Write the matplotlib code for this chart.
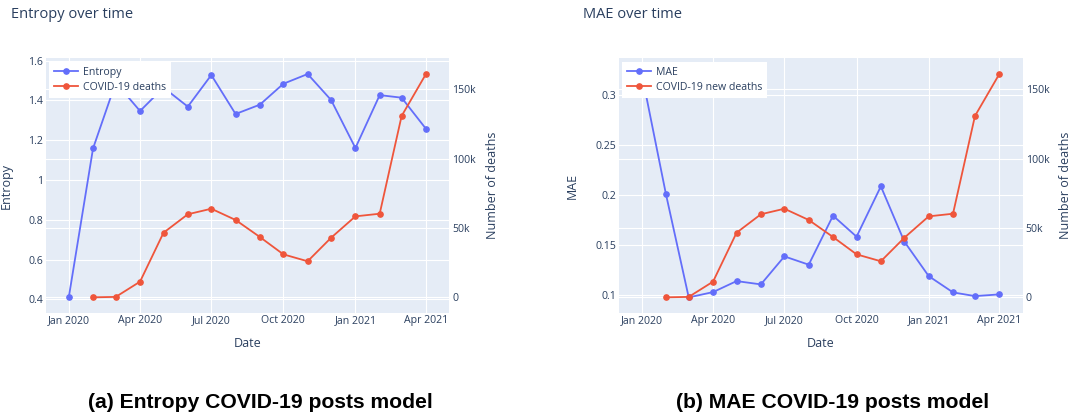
import matplotlib
matplotlib.use("Agg")
import matplotlib.pyplot as plt
import matplotlib.dates as mdates
import matplotlib.transforms as mtransforms
import pandas as pd

# monthly values
months = ['2020-01', '2020-02', '2020-03', '2020-04', '2020-05', '2020-06',
          '2020-07', '2020-08', '2020-09', '2020-10', '2020-11', '2020-12',
          '2021-01', '2021-02', '2021-03', '2021-04']
entropy = [0.410, 1.159, 1.490, 1.347, 1.465, 1.369, 1.528, 1.332,
           1.379, 1.484, 1.533, 1.402, 1.161, 1.427, 1.414, 1.258]
mae = [0.322, 0.201, 0.098, 0.1033, 0.1143, 0.111, 0.139, 0.1307,
       0.1797, 0.1587, 0.209, 0.1537, 0.1193, 0.103, 0.0993, 0.101]
death_months = months[1:]
deaths = [0, 300, 11300, 46600, 59900, 63900, 55800, 43500,
          31000, 26000, 43000, 58400, 60300, 130800, 161000]

death_ticks = [0, 50000, 100000, 150000]
death_tick_labels = ['0', '50k', '100k', '150k']
entropy_ticks = [0.4, 0.6, 0.8, 1.0, 1.2, 1.4, 1.6]
entropy_tick_labels = ['0.4', '0.6', '0.8', '1', '1.2', '1.4', '1.6']
mae_ticks = [0.1, 0.15, 0.2, 0.25, 0.3]
mae_tick_labels = ['0.1', '0.15', '0.2', '0.25', '0.3']

BLUE = '#636efa'
RED = '#ef553b'
BG = '#e5ecf6'
TXT = '#2a3f5f'
FONT = 'Open Sans'
TICK_FS = 7.6

plt.rcParams['font.family'] = [FONT, 'DejaVu Sans']

dates = pd.to_datetime(months)
death_dates = pd.to_datetime(death_months)


def panel(ax, y, ylabel, yticks, yticklabels, ylim, name, death_name, ylabel_x):
    ax2 = ax.twinx()
    ax.set_facecolor(BG)
    for a in (ax, ax2):
        for s in a.spines.values():
            s.set_visible(False)
        a.tick_params(length=0, labelsize=TICK_FS, labelcolor=TXT, pad=2)
    ax.set_xlim(pd.Timestamp('2019-12-03'), pd.Timestamp('2021-05-01'))
    ax.set_ylim(*ylim)
    ax2.set_ylim(-11100, 172400)
    ax.set_yticks(yticks)
    ax.set_yticklabels(yticklabels)
    ax2.set_yticks(death_ticks)
    ax2.set_yticklabels(death_tick_labels)
    ax.xaxis.set_major_locator(mdates.MonthLocator(bymonth=[1, 4, 7, 10]))
    ax.xaxis.set_major_formatter(mdates.DateFormatter('%b %Y'))
    ax.grid(True, color='white', lw=0.8)
    ax.set_axisbelow(True)
    # right-axis grid drawn on the bottom axes so it stays under the lines
    tr = mtransforms.blended_transform_factory(ax.transAxes, ax2.transData)
    for t in death_ticks:
        ax.plot([0, 1], [t, t], transform=tr, color='white', lw=0.8, zorder=0.5)

    l1, = ax.plot(dates, y, color=BLUE, lw=1.3, marker='o', ms=3.8, label=name)
    l2, = ax2.plot(death_dates, deaths, color=RED, lw=1.3, marker='o', ms=3.8,
                   label=death_name)

    ax.set_xlabel('Date', fontsize=9, color=TXT)
    ax.xaxis.set_label_coords(0.5, -0.096)
    ax.set_ylabel(ylabel, fontsize=9, color=TXT)
    ax.yaxis.set_label_coords(ylabel_x, 0.5)
    ax2.set_ylabel('Number of deaths', fontsize=9, color=TXT)
    ax2.yaxis.set_label_coords(1.0906, 0.5)

    leg = ax2.legend([l1, l2], [name, death_name], loc='upper left',
                     bbox_to_anchor=(0.0074, 0.986), borderaxespad=0,
                     fontsize=TICK_FS, fancybox=False, framealpha=1,
                     edgecolor='none', handlelength=2.3, handletextpad=0.45,
                     labelspacing=0.4, borderpad=0.45)
    for t in leg.get_texts():
        t.set_color(TXT)
    return ax2


fig = plt.figure(figsize=(10.71, 4.18), dpi=100)
ax_l = fig.add_axes([0.0430, 0.2519, 0.3766, 0.6086])
ax_r = fig.add_axes([0.5779, 0.2519, 0.3771, 0.6086])

panel(ax_l, entropy, 'Entropy', entropy_ticks, entropy_tick_labels,
      (0.333, 1.612), 'Entropy', 'COVID-19 deaths', -0.0818)
panel(ax_r, mae, 'MAE', mae_ticks, mae_tick_labels,
      (0.0827, 0.337), 'MAE', 'COVID-19 new deaths', -0.0987)

fig.text(10.7 / 1071, 1 - 15 / 418, 'Entropy over time', ha='left', va='center',
         fontsize=10.5, color=TXT)
fig.text(583 / 1071, 1 - 15 / 418, 'MAE over time', ha='left', va='center',
         fontsize=10.5, color=TXT)
fig.text(260 / 1071, 1 - 403 / 418, '(a) Entropy COVID-19 posts model',
         ha='center', va='center', fontsize=15.2, fontweight='bold',
         family='Liberation Sans', color='black')
fig.text(833 / 1071, 1 - 403 / 418, '(b) MAE COVID-19 posts model',
         ha='center', va='center', fontsize=15.2, fontweight='bold',
         family='Liberation Sans', color='black')

fig.savefig('out.png', dpi=100, facecolor='white')
